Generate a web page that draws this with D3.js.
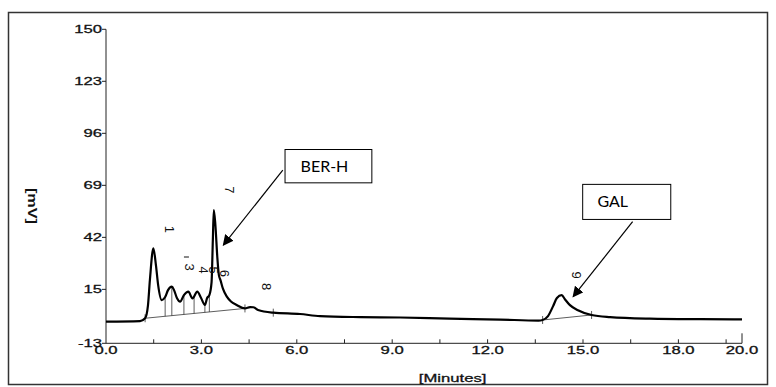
<!DOCTYPE html>
<html><head><meta charset="utf-8">
<script src="https://cdn.jsdelivr.net/npm/d3@7"></script>
<style>body{margin:0;background:#fff}svg{display:block}</style>
</head><body>
<svg id="c" width="776" height="387"></svg>
<script>
// ---- data (minutes, mV) ----
const times  = [0.0,1.07,1.23,1.32,1.38,1.49,1.57,1.64,1.75,1.86,1.95,2.07,2.14,2.23,2.33,2.45,2.59,2.72,2.87,2.99,3.11,3.18,3.25,3.32,3.36,3.39,3.44,3.50,3.55,3.60,3.68,3.80,3.93,4.11,4.37,4.53,4.63,4.78,5.26,6.1,6.73,8.0,9.25,10.8,12.4,13.6,13.73,13.9,14.06,14.18,14.33,14.43,14.59,14.84,15.27,15.85,17.1,18.7,20.0];
const signal = [-1.8,-1.5,0.0,6.7,19.8,36.3,27.6,17.2,9.4,11.0,14.6,16.4,14.6,10.5,8.6,12.0,13.8,10.3,13.8,10.5,6.9,10.5,12.0,18.8,40.6,56.2,48.4,31.8,22.4,19.8,15.2,11.2,8.7,6.9,5.1,5.8,5.7,4.3,2.9,2.2,1.1,0.6,0.4,-0.2,-0.7,-1.2,-0.9,1.1,6.3,10.5,12.0,9.9,6.8,4.2,1.7,0.6,-0.2,-0.5,-0.6];
const yTicks = [150,123,96,69,42,15,-13];
const xTicks = [0,3,6,9,12,15,18,20];
const xMinor = [1.5,4.5,7.5,10.5,13.5,16.5,19.5];
// integration baselines [t0,v0] -> [t1,v1]
const baseT0 = [1.23,13.73], baseV0 = [0.0,-0.9], baseT1 = [4.37,15.27], baseV1 = [5.1,1.7];
const baseMarksT = [1.23,4.37,5.26,13.73,15.27];
const dropT = [1.86,2.07,2.45,2.77,3.11,3.25];
const peakNames = ["1","3","4","5","6","7","8","9"];
const peakLabT  = [2.01,2.64,3.06,3.37,3.74,3.90,5.05,14.8];
const peakLabV  = [46.2,26.6,25.0,25.0,23.3,66.6,16.4,22.4];
const annNames = ["BER-H","GAL"];
const annBoxT = [5.63,14.99], annBoxV = [87.6,69.5], annBoxW = [2.73,2.77], annBoxH = [17.3,18.2];
const annFromT = [5.56,16.56], annFromV = [76.9,50.1], annToT = [3.69,14.69], annToV = [38.0,11.2];

const svg = d3.select("#c");
const x = d3.scaleLinear().domain([0,20]).range([106,742]);
const y = d3.scaleLinear().domain([-13,150]).range([343.3,29.3]);
const axisCol = "#222";
const stretch = 1.45;
const FONT = "Liberation Sans, Arial, sans-serif";

// outer frame
svg.append("rect").attr("x",8.5).attr("y",12.5).attr("width",759).attr("height",372)
  .attr("fill","none").attr("stroke","#333").attr("stroke-width",1.5);

function stext(px,py,str,anchor,size){
  const g = svg.append("g").attr("transform",`translate(${px},${py}) scale(${stretch},1)`);
  g.append("text").attr("text-anchor",anchor).attr("font-family",FONT)
   .attr("font-size",size).attr("fill","#111").attr("stroke","#111").attr("stroke-width",0.3).text(str);
  return g;
}

// axes
svg.append("line").attr("x1",x(0)).attr("x2",x(0)).attr("y1",y(150)).attr("y2",y(-13)).attr("stroke",axisCol);
svg.append("line").attr("x1",x(0)).attr("x2",x(20)).attr("y1",y(-13)).attr("y2",y(-13)).attr("stroke",axisCol);
svg.append("line").attr("x1",x(20)).attr("x2",x(20)).attr("y1",y(-13)).attr("y2",y(-13)-10).attr("stroke",axisCol);
yTicks.forEach(v=>{
  svg.append("line").attr("x1",x(0)-4).attr("x2",x(0)).attr("y1",y(v)).attr("y2",y(v)).attr("stroke",axisCol);
  stext(x(0)-4, y(v)+4, String(v), "end", 11.5);
});
xMinor.concat(xTicks.slice(1,7)).forEach(t=>{
  svg.append("line").attr("x1",x(t)).attr("x2",x(t)).attr("y1",y(-13)).attr("y2",y(-13)-4).attr("stroke",axisCol);
});
xTicks.forEach(t=>{
  stext(x(t), y(-13)+11, t.toFixed(1), "middle", 11.5);
});
stext(x(10.9), 382, "[Minutes]", "middle", 11.5);
svg.append("text").attr("transform",`translate(${x(0)-78},${y(58.3)}) rotate(90) scale(1.35,1)`)
  .attr("text-anchor","middle").attr("font-family",FONT)
  .attr("font-weight","bold").attr("font-size",12).attr("fill","#111").text("[mV]");

// integration baselines
baseT0.forEach((t,i)=>{
  svg.append("line").attr("x1",x(t)).attr("y1",y(baseV0[i])).attr("x2",x(baseT1[i])).attr("y2",y(baseV1[i]))
    .attr("stroke","#333").attr("stroke-width",0.8);
});
const interpS = d3.scaleLinear().domain(times).range(signal);
function baseAt(t){
  for(let i=0;i<baseT0.length;i++){ if(t>=baseT0[i]&&t<=baseT1[i]) return baseV0[i]+(baseV1[i]-baseV0[i])*(t-baseT0[i])/(baseT1[i]-baseT0[i]); }
  return interpS(t);
}
dropT.forEach(t=>{
  svg.append("line").attr("x1",x(t)).attr("x2",x(t)).attr("y1",y(interpS(t))).attr("y2",y(baseAt(t)))
   .attr("stroke","#333").attr("stroke-width",0.8);
});
baseMarksT.forEach(t=>{
  const v = baseAt(t);
  svg.append("line").attr("x1",x(t)).attr("x2",x(t)).attr("y1",y(v)-4).attr("y2",y(v)+4).attr("stroke","#333").attr("stroke-width",0.8);
});

// trace
const line = d3.line().x((d,i)=>x(times[i])).y(d=>y(d)).curve(d3.curveMonotoneX);
svg.append("path").datum(signal).attr("d",line).attr("fill","none").attr("stroke","#000").attr("stroke-width",2.2);

// peak labels (rotated)
peakNames.forEach((n,i)=>{
  svg.append("text").attr("transform",`translate(${x(peakLabT[i])},${y(peakLabV[i])}) rotate(90)`)
   .attr("text-anchor","middle").attr("dy","0.35em").attr("font-family",FONT)
   .attr("font-size",13).attr("fill","#111").text(n);
});
// small bar above label "3"
const l3 = peakNames.indexOf("3");
svg.append("line").attr("x1",x(peakLabT[l3])-6).attr("x2",x(peakLabT[l3])-1)
  .attr("y1",y(peakLabV[l3])-10).attr("y2",y(peakLabV[l3])-10).attr("stroke","#111").attr("stroke-width",1);

// annotations
svg.append("defs").append("marker").attr("id","ah").attr("viewBox","0 0 10 10").attr("refX",9).attr("refY",5)
  .attr("markerWidth",9).attr("markerHeight",9).attr("orient","auto")
  .append("path").attr("d","M0,0 L10,5 L0,10 z").attr("fill","#000");
const annTextDx = [-4,-14];
annNames.forEach((n,i)=>{
  const bx = x(annBoxT[i]), by = y(annBoxV[i]);
  const bw = x(annBoxT[i]+annBoxW[i])-bx, bh = y(annBoxV[i]-annBoxH[i])-by;
  svg.append("rect").attr("x",bx).attr("y",by).attr("width",bw).attr("height",bh)
    .attr("fill","#fff").attr("stroke","#000").attr("stroke-width",1);
  svg.append("text").attr("x",bx+bw/2+annTextDx[i]).attr("y",by+bh/2+5.5).attr("text-anchor","middle")
    .attr("font-family","Lato, Open Sans, sans-serif").attr("font-size",16).attr("fill","#000").text(n);
  svg.append("line").attr("x1",x(annFromT[i])).attr("y1",y(annFromV[i])).attr("x2",x(annToT[i])).attr("y2",y(annToV[i]))
    .attr("stroke","#000").attr("stroke-width",1.2).attr("marker-end","url(#ah)");
});
</script>
</body></html>
